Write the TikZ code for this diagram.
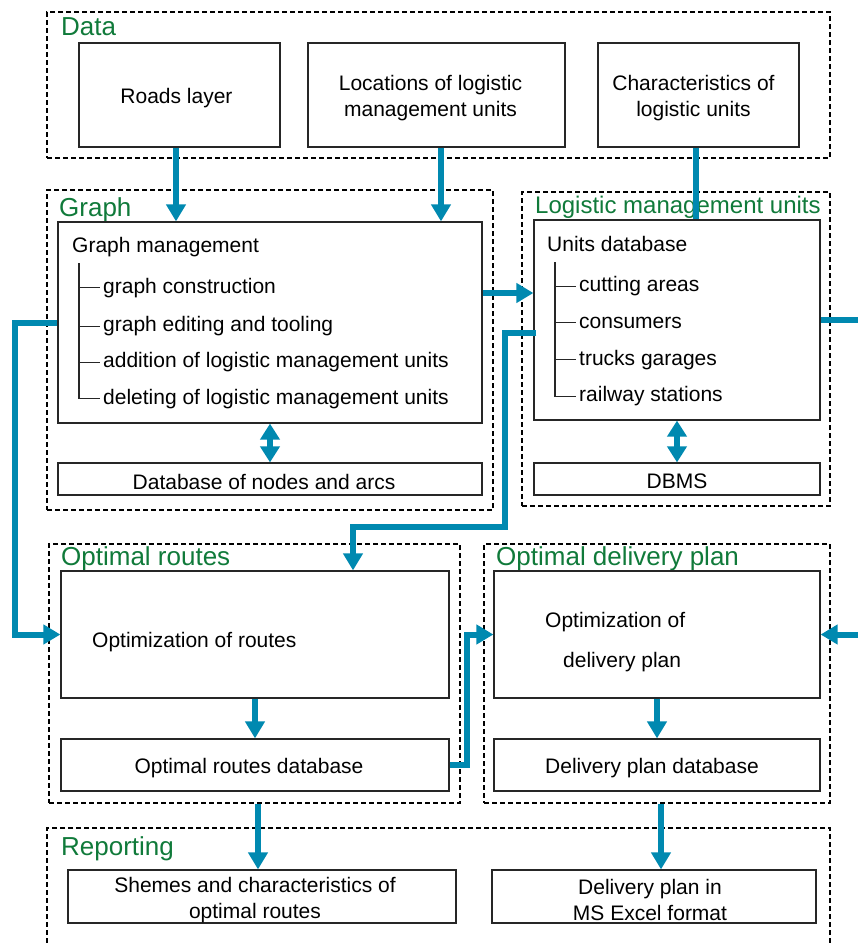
\documentclass[tikz,border=0pt]{standalone}
\usepackage{fontspec}
\setmainfont{Liberation Sans}
\usetikzlibrary{arrows.meta}
\definecolor{flowblue}{RGB}{0,137,176}
\definecolor{titlegreen}{RGB}{16,122,58}
\begin{document}
\begin{tikzpicture}[x=1pt,y=-1pt,
  every node/.style={font=\fontsize{21}{26}\selectfont},
  box/.style={draw=black!85, line width=1.2pt, fill=white, inner sep=0pt},
  boxtext/.style={align=center, inner sep=0pt},
  group/.style={draw=black, line width=1.8pt, dash pattern=on 5pt off 3pt, inner sep=0pt},
  grouptitle/.style={anchor=base west, inner sep=0pt, text=titlegreen, font=\fontsize{26}{30}\selectfont},
  item/.style={anchor=base west, inner sep=0pt, inner xsep=3pt, text height=15pt, text depth=4pt},
  plain/.style={anchor=base west, inner sep=0pt},
  flow/.style={draw=flowblue, line width=6pt, -{Triangle[width=19pt,length=17pt]}},
  flowline/.style={draw=flowblue, line width=6pt},
  dflow/.style={draw=flowblue, line width=6pt, {Triangle[width=19pt,length=16pt]}-{Triangle[width=19pt,length=16pt]}},
  tree/.style={draw=black!85, line width=1.2pt}
]
\useasboundingbox (0,0) rectangle (858,943);

% ---------- groups ----------
\node[group, minimum width=783pt, minimum height=146pt] (datagrp) at (438.5,85) {};
\node[group, minimum width=446pt, minimum height=320pt] (graphgrp) at (270,350) {};
\node[group, minimum width=308pt, minimum height=314pt] (lmugrp) at (676,349) {};
\node[group, minimum width=411pt, minimum height=259pt] (orgrp) at (254.5,673.5) {};
\node[group, minimum width=346pt, minimum height=259pt] (odpgrp) at (657,673.5) {};
\node[group, minimum width=783pt, minimum height=132pt] (repgrp) at (438.5,894) {};

% ---------- group titles ----------
\node[grouptitle] (datat) at (61,35) {Data};
\node[grouptitle] (grapht) at (59,216) {Graph};
\node[grouptitle, font=\fontsize{24}{28}\selectfont] (lmut) at (535,213) {Logistic management units};
\node[grouptitle] (ort) at (61,565) {Optimal routes};
\node[grouptitle] (odpt) at (496,565) {Optimal delivery plan};
\node[grouptitle] (rept) at (61,855) {Reporting};

% ---------- data boxes ----------
\node[box, minimum width=201pt, minimum height=104pt] (roads) at (179.5,95) {};
\node[boxtext] (roadst) at ([xshift=-3pt,yshift=-3.5pt]roads.center) {Roads layer};
\node[box, minimum width=257pt, minimum height=104pt] (locs) at (436.5,95) {};
\node[boxtext] (locst) at ([xshift=-6pt,yshift=-3.5pt]locs.center) {Locations of logistic\\management units};
\node[box, minimum width=201pt, minimum height=104pt] (chars) at (698.5,95) {};
\node[boxtext] (charst) at ([xshift=-5pt,yshift=-3.5pt]chars.center) {Characteristics of\\logistic units};

% ---------- graph ----------
\node[box, minimum width=424pt, minimum height=201pt] (gm) at (270,322.5) {};
\node[box, minimum width=424pt, minimum height=32pt] (dbna) at (270,479) {};
\node[boxtext] (dbnat) at ([xshift=-6pt,yshift=-2.5pt]dbna.center) {Database of nodes and arcs};
\node[item, inner xsep=0pt] (gmt) at (72,252.7) {Graph management};
\coordinate (gmtree) at (79,263);
\node[item] (g1) at (100,293.3) {graph construction};
\node[item] (g2) at (100,331.7) {graph editing and tooling};
\node[item] (g3) at (100,367.7) {addition of logistic management units};
\node[item] (g4) at (100,404) {deleting of logistic management units};
\draw[tree] (gmtree) |- (g4.west);
\draw[tree] (gmtree |- g1.west) -- (g1.west);
\draw[tree] (gmtree |- g2.west) -- (g2.west);
\draw[tree] (gmtree |- g3.west) -- (g3.west);

% ---------- logistic management units ----------
\node[box, minimum width=286pt, minimum height=200pt] (ud) at (677,320) {};
\node[box, minimum width=286pt, minimum height=32pt] (dbms) at (677,479) {};
\node[boxtext] (dbmst) at ([yshift=-2.5pt]dbms.center) {DBMS};
\node[item, inner xsep=0pt] (udt) at (547,251.7) {Units database};
\coordinate (udtree) at (555,262);
\node[item] (u1) at (576,291.7) {cutting areas};
\node[item] (u2) at (576,328.3) {consumers};
\node[item] (u3) at (576,365) {trucks garages};
\node[item] (u4) at (576,401.7) {railway stations};
\draw[tree] (udtree) |- (u4.west);
\draw[tree] (udtree |- u1.west) -- (u1.west);
\draw[tree] (udtree |- u2.west) -- (u2.west);
\draw[tree] (udtree |- u3.west) -- (u3.west);

% ---------- optimal routes ----------
\node[box, minimum width=388pt, minimum height=127pt] (optr) at (255,634.5) {};
\node[plain] (optrt) at (92,647) {Optimization of routes};
\node[box, minimum width=388pt, minimum height=52pt] (ordb) at (255,765) {};
\node[boxtext] (ordbt) at ([xshift=-6pt,yshift=-3.5pt]ordb.center) {Optimal routes database};

% ---------- optimal delivery plan ----------
\node[box, minimum width=326pt, minimum height=127pt] (optd) at (657,634.5) {};
\node[plain] (optdt1) at (545,627) {Optimization of};
\node[plain] (optdt2) at (563,667) {delivery plan};
\node[box, minimum width=326pt, minimum height=52pt] (dpdb) at (657,765) {};
\node[boxtext] (dpdbt) at ([xshift=-5pt,yshift=-3.5pt]dpdb.center) {Delivery plan database};

% ---------- reporting ----------
\node[box, minimum width=388pt, minimum height=53pt] (shemes) at (262,896.5) {};
\node[boxtext] (shemest) at ([xshift=-7pt,yshift=-3.5pt]shemes.center) {Shemes and characteristics of\\optimal routes};
\node[box, minimum width=324pt, minimum height=53pt] (dpxl) at (654,896.5) {};
\node[boxtext] (dpxlt) at ([xshift=-4pt,yshift=-3.5pt]dpxl.center) {Delivery plan in\\MS Excel format};

% ---------- connectors ----------
\draw[flow] ([xshift=-3.5pt]roads.south) -- ([xshift=-3.5pt]roads.south |- gm.north);
\draw[flow] ([xshift=4.5pt]locs.south) -- ([xshift=4.5pt]locs.south |- gm.north);
\draw[flowline] ([xshift=-2.5pt]chars.south) -- ([xshift=-2.5pt]chars.south |- ud.north);
\draw[flow] ([yshift=29.5pt]gm.east) -- ([yshift=29.5pt]gm.east -| ud.west);
\draw[flow] (gm.west) -- ++(-42,0) |- (optr.west);
\draw[flow] ([xshift=3pt,yshift=-13pt]ud.west) -- ++(-31,0) -- ++(0,194) -| ([xshift=98pt]optr.north);
\coordinate (outR1) at (862,320);
\coordinate (outR2) at (862,634.5);
\draw[flowline] (ud.east) -- (outR1);
\draw[flow] (outR2) -- (optd.east);
\draw[flow] (optr.south) -- (ordb.north);
\draw[flow] (ordb.east) -- ++(17,0) |- (optd.west);
\draw[flow] (optd.south) -- (dpdb.north);
\draw[flow] ([xshift=3.5pt]orgrp.south) -- ([xshift=3.5pt]orgrp.south |- shemes.north);
\draw[flow] ([xshift=4pt]odpgrp.south) -- ([xshift=4pt]odpgrp.south |- dpxl.north);
\draw[dflow] (gm.south) -- (dbna.north);
\draw[dflow] (ud.south) -- (dbms.north);
\end{tikzpicture}
\end{document}
